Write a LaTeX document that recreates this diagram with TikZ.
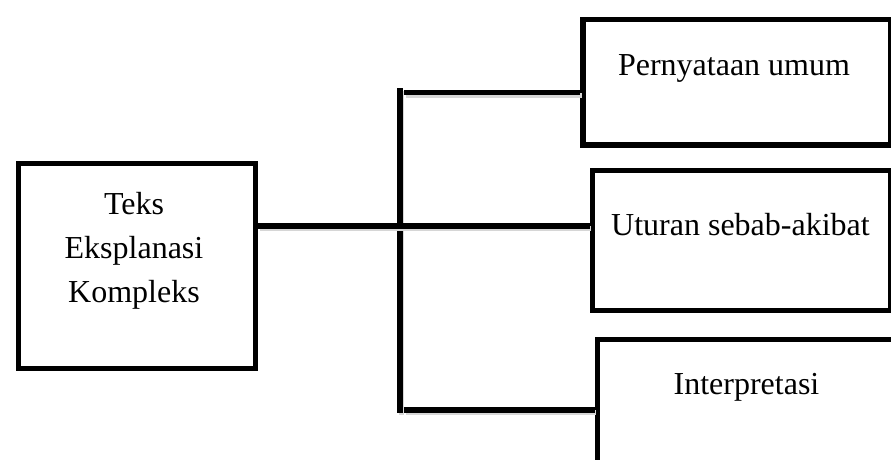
\documentclass[tikz,border=0pt]{standalone}
\usepackage{fontspec}
\setmainfont{Liberation Serif}
\begin{document}
\begin{tikzpicture}[x=1pt,y=-1pt,
  box/.style={draw=black, line width=5.5pt, fill=white, inner sep=0pt, anchor=north west},
  label/.style={font=\fontsize{32}{44}\selectfont, inner sep=0pt, anchor=base},
  link/.style={line width=5.5pt, preaction={draw=black!16, line width=5pt,
      transform canvas={shift={(1.5pt,-2.5pt)}}}}]
  \useasboundingbox (0,0) rectangle (891,459);
  \clip (0,0) rectangle (891,459);

  % main box on the left
  \node[box, minimum width=237pt, minimum height=205pt] (main) at (15.5,160.5) {};
  \node[label] (t1) at (134,214) {Teks};
  \node[label] (t2) at (134,258) {Eksplanasi};
  \node[label] (t3) at (134,302) {Kompleks};

  % the three parts on the right
  \node[box, minimum width=307.5pt, minimum height=125.5pt] (pu) at (580,16.5) {};
  \node[label] (pu text) at (734,75) {Pernyataan umum};

  \node[box, minimum width=298pt, minimum height=140pt] (usa) at (589.5,167.5) {};
  \node[label] (usa text) at (740.5,235) {Uturan sebab-akibat};

  \node[box, minimum width=330pt, minimum height=150pt] (int) at (594.5,336.5) {};
  \node[label] (int text) at (746.5,394) {Interpretasi};

  % branching spine
  \coordinate (spine top) at (400,88);
  \coordinate (spine bot) at (400,412.5);
  \coordinate (j1) at (400,92.5);
  \coordinate (j2) at (400,226);
  \coordinate (j3) at (400,410);

  \draw[link] (spine top) -- (spine bot);
  \draw[link] ([xshift=4pt]j1) -- (pu.west |- j1);
  \draw[link] (main.east |- j2) -- (usa.west |- j2);
  \draw[link] ([xshift=4pt]j3) -- (int.west |- j3);
\end{tikzpicture}
\end{document}
